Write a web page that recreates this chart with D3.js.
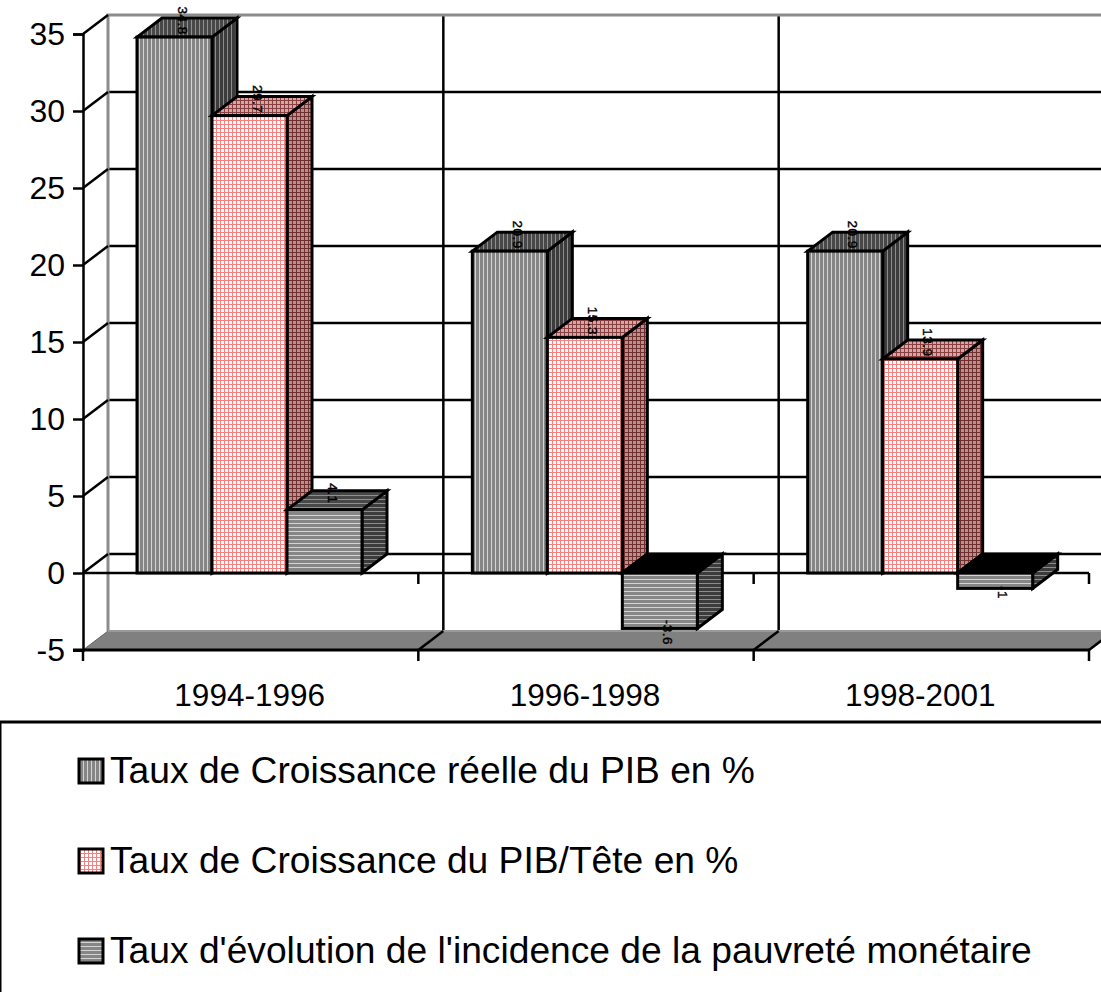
<!DOCTYPE html>
<html>
<head>
<meta charset="utf-8">
<script src="https://cdn.jsdelivr.net/npm/d3@7"></script>
<style>
    body { margin: 0; background: #fff; overflow: hidden; }
    svg { display: block; font-family: "Liberation Sans", Arial, sans-serif; }
</style>
</head>
<body>
<div id="chart"></div>
<script>
const categories = ["1994-1996", "1996-1998", "1998-2001"];
const seriesNames = [
    "Taux de Croissance réelle du PIB en %",
    "Taux de Croissance du PIB/Tête en %",
    "Taux d'évolution de l'incidence de la pauvreté monétaire"
];
const croissancePib = [34.8, 20.9, 20.9];
const croissanceTete = [29.7, 15.3, 13.9];
const evolutionPauvrete = [4.1, -3.6, -1];
const yTicks = [-5, 0, 5, 10, 15, 20, 25, 30, 35];

const width = 1101;
const height = 992;
const depthX = 25;
const depthY = 19;

const svg = d3.select("#chart")
    .append("svg")
    .attr("width", width)
    .attr("height", height);

// fill patterns: front, top and side of each series
const defs = svg.append("defs");

function stripePattern(id, bg, fg, vertical) {
    const p = defs.append("pattern")
        .attr("id", id)
        .attr("patternUnits", "userSpaceOnUse")
        .attr("width", 4)
        .attr("height", 4);
    p.append("rect").attr("width", 4).attr("height", 4).attr("fill", bg);
    p.append("rect")
        .attr("width", vertical ? 3 : 4)
        .attr("height", vertical ? 4 : 3)
        .attr("fill", fg);
}

function gridPattern(id, bg, fg) {
    const p = defs.append("pattern")
        .attr("id", id)
        .attr("patternUnits", "userSpaceOnUse")
        .attr("width", 4)
        .attr("height", 4);
    p.append("rect").attr("width", 4).attr("height", 4).attr("fill", bg);
    p.append("rect").attr("width", 4).attr("height", 1).attr("fill", fg);
    p.append("rect").attr("width", 1).attr("height", 4).attr("fill", fg);
}

stripePattern("s0-front", "#d4d4d4", "#868686", true);
stripePattern("s0-top", "#909090", "#484848", true);
stripePattern("s0-side", "#8c8c8c", "#3c3c3c", true);
gridPattern("s1-front", "#fff", "#f58080");
gridPattern("s1-top", "#cfa8a8", "#8a4040");
gridPattern("s1-side", "#b89090", "#703030");
stripePattern("s2-front", "#d4d4d4", "#868686", false);
stripePattern("s2-top", "#909090", "#484848", false);
stripePattern("s2-side", "#8c8c8c", "#3c3c3c", false);

// scales
const x0 = d3.scaleBand()
    .domain(categories)
    .range([83, 1089]);

const x1 = d3.scaleBand()
    .domain(d3.range(seriesNames.length))
    .range([54, 279]);

const y = d3.scaleLinear()
    .domain([-5, 35])
    .range([650, 34]);

const bars = [croissancePib, croissanceTete, evolutionPauvrete].flatMap((values, s) =>
    values.map((v, c) => ({ series: s, category: categories[c], value: v }))
);

const wall = svg.append("g");

// floor
const xEnd = x0.range()[1];
wall.append("polygon")
    .attr("points", [
        [x0.range()[0], y(-5)],
        [x0.range()[0] + depthX, y(-5) - depthY],
        [xEnd + depthX, y(-5) - depthY],
        [xEnd, y(-5)]
    ].join(" "))
    .attr("fill", "#808080");

// back wall grid
wall.selectAll(".grid")
    .data(yTicks.slice(1, -1))
    .enter()
    .append("line")
    .attr("x1", x0.range()[0] + depthX)
    .attr("x2", xEnd + depthX)
    .attr("y1", d => y(d) - depthY)
    .attr("y2", d => y(d) - depthY)
    .attr("stroke", "#000")
    .attr("stroke-width", 2.5);

wall.selectAll(".vgrid")
    .data(categories)
    .enter()
    .append("line")
    .attr("x1", d => x0(d) + x0.bandwidth() + depthX)
    .attr("x2", d => x0(d) + x0.bandwidth() + depthX)
    .attr("y1", y(35) - depthY)
    .attr("y2", y(-5) - depthY)
    .attr("stroke", "#000")
    .attr("stroke-width", 2.5);

// grey left and top edge of the wall
wall.append("path")
    .attr("d", `M${x0.range()[0] + depthX},${y(-5) - depthY}V${y(35) - depthY}H${xEnd + depthX}`)
    .attr("fill", "none")
    .attr("stroke", "#8c8c8c")
    .attr("stroke-width", 3);

wall.append("line")
    .attr("x1", x0.range()[0] + depthX)
    .attr("x2", xEnd + depthX)
    .attr("y1", y(-5) - depthY)
    .attr("y2", y(-5) - depthY)
    .attr("stroke", "#9a9a9a")
    .attr("stroke-width", 2);

// diagonals going from the axis to the wall
wall.selectAll(".diag")
    .data(yTicks)
    .enter()
    .append("line")
    .attr("x1", x0.range()[0])
    .attr("x2", x0.range()[0] + depthX)
    .attr("y1", d => y(d))
    .attr("y2", d => y(d) - depthY)
    .attr("stroke", d => d === -5 ? "#666" : "#000")
    .attr("stroke-width", d => d === -5 ? 1 : 2.5);

wall.selectAll(".floorDiag")
    .data(categories)
    .enter()
    .append("line")
    .attr("x1", d => x0(d) + x0.bandwidth())
    .attr("x2", d => x0(d) + x0.bandwidth() + depthX)
    .attr("y1", y(-5))
    .attr("y2", y(-5) - depthY)
    .attr("stroke", "#000")
    .attr("stroke-width", 2.5);

// zero line with its small ticks
wall.append("line")
    .attr("x1", x0.range()[0])
    .attr("x2", xEnd)
    .attr("y1", y(0))
    .attr("y2", y(0))
    .attr("stroke", "#000")
    .attr("stroke-width", 2.5);

wall.selectAll(".zeroTick")
    .data(categories)
    .enter()
    .append("line")
    .attr("x1", d => x0(d) + x0.bandwidth())
    .attr("x2", d => x0(d) + x0.bandwidth())
    .attr("y1", y(0))
    .attr("y2", y(0) + 11)
    .attr("stroke", "#000")
    .attr("stroke-width", 2.5);

// bars: side, top, front
const bar = svg.selectAll(".bar")
    .data(bars)
    .enter()
    .append("g")
    .attr("class", "bar");

function barBox(d) {
    const left = x0(d.category) + x1(d.series);
    const right = left + x1.bandwidth();
    const top = y(Math.max(d.value, 0));
    const bottom = y(Math.min(d.value, 0));
    return { left, right, top, bottom };
}

bar.append("polygon")
    .attr("points", d => {
        const b = barBox(d);
        return [[b.right, b.top], [b.right + depthX, b.top - depthY], [b.right + depthX, b.bottom - depthY], [b.right, b.bottom]].join(" ");
    })
    .attr("fill", d => `url(#s${d.series}-side)`)
    .attr("stroke", "#000")
    .attr("stroke-width", 3);

bar.append("polygon")
    .attr("points", d => {
        const b = barBox(d);
        return [[b.left, b.top], [b.left + depthX, b.top - depthY], [b.right + depthX, b.top - depthY], [b.right, b.top]].join(" ");
    })
    .attr("fill", d => d.value < 0 ? "#000" : `url(#s${d.series}-top)`)
    .attr("stroke", "#000")
    .attr("stroke-width", 3);

bar.append("rect")
    .attr("x", d => barBox(d).left)
    .attr("y", d => barBox(d).top)
    .attr("width", x1.bandwidth())
    .attr("height", d => barBox(d).bottom - barBox(d).top)
    .attr("fill", d => `url(#s${d.series}-front)`)
    .attr("stroke", "#000")
    .attr("stroke-width", 3);

// value labels, turned a quarter clockwise
svg.selectAll(".value")
    .data(bars)
    .enter()
    .append("text")
    .attr("class", "value")
    .attr("transform", d => {
        const b = barBox(d);
        const cx = (b.left + b.right) / 2 + 8;
        const cy = d.value < 0 ? b.bottom + 4 : b.top - 16.5;
        return `translate(${cx},${cy}) rotate(90)`;
    })
    .attr("text-anchor", "middle")
    .attr("dy", "0.35em")
    .attr("font-size", 13.5)
    .attr("letter-spacing", 0.5)
    .attr("stroke", "#000")
    .attr("stroke-width", 0.4)
    .attr("fill", "#000")
    .text(d => d.value);

// axes
const yAxis = svg.append("g")
    .attr("transform", `translate(${x0.range()[0]},0)`)
    .call(d3.axisLeft(y).tickValues(yTicks).tickFormat(d => String(d)).tickSize(10).tickPadding(8));

yAxis.selectAll("path").attr("stroke", "#000").attr("stroke-width", 2.5);
yAxis.selectAll("line").attr("stroke", "#000").attr("stroke-width", 2.5);
yAxis.selectAll("text").attr("font-size", 32).attr("font-family", "Liberation Sans").attr("fill", "#000");

svg.append("line")
    .attr("x1", x0.range()[0])
    .attr("x2", x0.range()[0])
    .attr("y1", y(-5))
    .attr("y2", y(-5) + 11)
    .attr("stroke", "#000")
    .attr("stroke-width", 2.5);

svg.append("line")
    .attr("x1", x0.range()[0] - 10)
    .attr("x2", xEnd)
    .attr("y1", y(-5))
    .attr("y2", y(-5))
    .attr("stroke", "#000")
    .attr("stroke-width", 3);

svg.selectAll(".bottomTick")
    .data(categories)
    .enter()
    .append("line")
    .attr("x1", d => x0(d) + x0.bandwidth())
    .attr("x2", d => x0(d) + x0.bandwidth())
    .attr("y1", y(-5))
    .attr("y2", y(-5) + 11)
    .attr("stroke", "#000")
    .attr("stroke-width", 2.5);

svg.selectAll(".cat")
    .data(categories)
    .enter()
    .append("text")
    .attr("class", "cat")
    .attr("x", d => x0(d) + x0.bandwidth() / 2 - 1)
    .attr("y", 706)
    .attr("text-anchor", "middle")
    .attr("font-size", 31.5)
    .attr("fill", "#000")
    .text(d => d);

// legend
const legend = svg.append("g");

legend.append("rect")
    .attr("x", 0)
    .attr("y", 722)
    .attr("width", width + 10)
    .attr("height", 300)
    .attr("fill", "#fff")
    .attr("stroke", "#000")
    .attr("stroke-width", 3);

const legendY = d3.scalePoint()
    .domain(d3.range(seriesNames.length))
    .range([783, 963]);

const item = legend.selectAll(".item")
    .data(seriesNames)
    .enter()
    .append("g")
    .attr("class", "item")
    .attr("transform", (d, i) => `translate(0,${legendY(i)})`);

item.append("rect")
    .attr("x", 79)
    .attr("y", -24)
    .attr("width", 24)
    .attr("height", 24)
    .attr("fill", (d, i) => `url(#s${i}-front)`)
    .attr("stroke", "#000")
    .attr("stroke-width", 3);

item.append("text")
    .attr("x", 110)
    .attr("font-size", 37.2)
    .attr("fill", "#000")
    .text(d => d);
</script>
</body>
</html>
